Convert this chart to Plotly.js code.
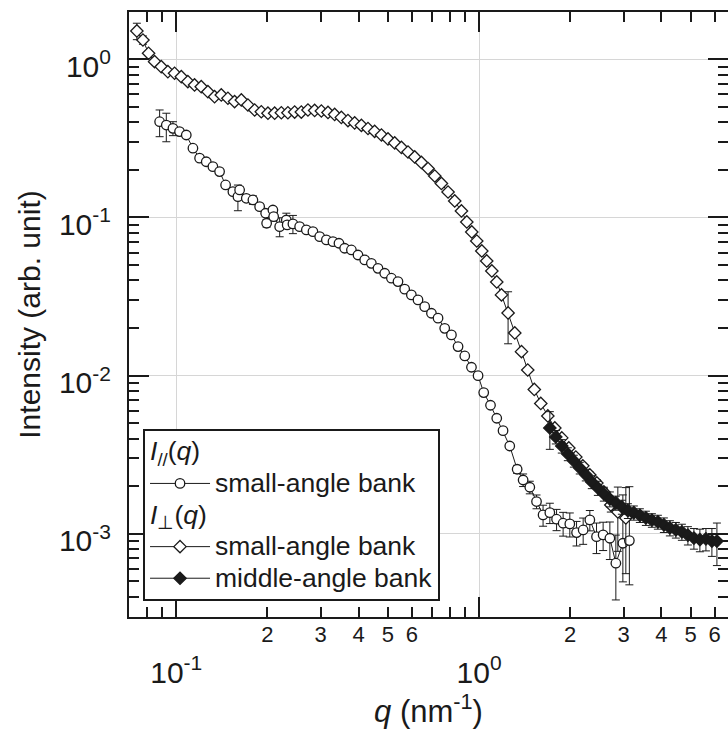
<!DOCTYPE html>
<html>
<head>
<meta charset="utf-8">
<script src="https://cdn.plot.ly/plotly-3.0.1.min.js"></script>
<style>html,body{margin:0;padding:0;background:#fff;}#chart{width:728px;height:738px;}</style>
</head>
<body>
<div id="chart"></div>
<script>
// ---- data: I_// (q), small-angle bank (open circles)
const qPar = [0.0881,0.0927,0.0975,0.1025,0.1079,0.1135,0.1194,0.1256,0.1321,0.1390,0.1455,0.1538,0.1598,0.1619,0.1703,0.1791,0.1885,0.1973,0.1988,0.2085,0.2097,0.2195,0.2309,0.2324,0.2428,0.2555,0.2689,0.2827,0.2976,0.3131,0.3292,0.3446,0.3598,0.3788,0.3982,0.4191,0.4409,0.4636,0.4880,0.5134,0.5398,0.5680,0.5977,0.6285,0.6614,0.6962,0.7320,0.7701,0.8105,0.8524,0.8971,0.9438,0.9924,1.036,1.091,1.144,1.200,1.263,1.336,1.398,1.471,1.548,1.627,1.713,1.803,1.895,1.994,2.099,2.207,2.322,2.443,2.569,2.704,2.830,2.985,3.136];
const iPar = [0.403,0.384,0.366,0.349,0.332,0.274,0.237,0.225,0.2095,0.195,0.1605,0.1456,0.1353,0.1492,0.1322,0.129,0.117,0.1063,0.0919,0.1115,0.1012,0.0875,0.0964,0.0897,0.091,0.0875,0.0834,0.0813,0.0756,0.0721,0.0703,0.0687,0.0639,0.0623,0.0579,0.0539,0.0513,0.0477,0.0444,0.0413,0.0393,0.0352,0.0324,0.0301,0.0273,0.0248,0.0231,0.0199,0.0181,0.01526,0.01332,0.0113,0.0100,0.00781,0.0065,0.00538,0.00449,0.00359,0.00256,0.00219,0.00197,0.0016,0.001317,0.001361,0.001237,0.001167,0.001155,0.001018,0.001058,0.001224,0.00096,0.000984,0.000938,0.000652,0.000872,0.000906];
const errParPlus = [0.075,0.072,0.037,0.015,0.010,0.008,0.006,0.006,0.005,0.005,0.006,0.005,0.025,0.008,0.006,0.008,0.005,0.004,0.005,0.004,0.006,0.012,0.010,0.004,0.012,0.002,0.002,0.002,0.0018,0.0017,0.0016,0.0015,0.0014,0.0013,0.0012,0.0011,0.001,0.001,0.0009,0.0008,0.0008,0.0007,0.0006,0.0006,0.0005,0.0005,0.0005,0.0004,0.0004,0.0003,0.0003,0.00025,0.0002,0.00018,0.00015,0.00013,0.00012,0.0001,0.00015,0.0002,0.00018,0.00016,0.0002,0.0002,0.00019,0.0002,0.0002,0.00018,0.0002,0.00018,0.00021,0.0002,0.00025,0.00033,0.00089,0.00108];
const errParMinus = [0.079,0.083,0.037,0.015,0.010,0.008,0.006,0.006,0.005,0.005,0.006,0.005,0.025,0.008,0.006,0.008,0.005,0.004,0.005,0.004,0.006,0.012,0.010,0.004,0.012,0.002,0.002,0.002,0.0018,0.0017,0.0016,0.0015,0.0014,0.0013,0.0012,0.0011,0.001,0.001,0.0009,0.0008,0.0008,0.0007,0.0006,0.0006,0.0005,0.0005,0.0005,0.0004,0.0004,0.0003,0.0003,0.00025,0.0002,0.00018,0.00015,0.00013,0.00012,0.0001,0.00015,0.0002,0.00018,0.00016,0.0002,0.0002,0.00019,0.0002,0.0002,0.00018,0.0002,0.00018,0.00021,0.0002,0.00025,0.00027,0.000375,0.00043];

// ---- data: I_perp (q), small-angle bank (open diamonds)
const qPerpSmall = [0.0741,0.0776,0.0810,0.0848,0.0892,0.0938,0.0987,0.1039,0.1092,0.1149,0.1209,0.1272,0.1338,0.1408,0.1481,0.1558,0.1640,0.1724,0.1815,0.1909,0.2008,0.2113,0.2223,0.2337,0.2460,0.2588,0.2722,0.2864,0.3014,0.3170,0.3335,0.3509,0.3690,0.3883,0.4087,0.4297,0.4520,0.4760,0.5003,0.5265,0.5541,0.5825,0.6131,0.645,0.6783,0.7139,0.751,0.790,0.831,0.8746,0.911,0.946,0.9826,1.021,1.060,1.102,1.144,1.186,1.247,1.312,1.381,1.448,1.522,1.599,1.687,1.779,1.876,1.979,2.087,2.201,2.322,2.449,2.583,2.724,2.873,3.053];
const iPerpSmall = [1.51,1.324,1.091,0.966,0.898,0.835,0.816,0.776,0.722,0.688,0.671,0.624,0.580,0.595,0.567,0.540,0.553,0.514,0.478,0.466,0.456,0.456,0.459,0.459,0.464,0.464,0.478,0.475,0.471,0.461,0.448,0.429,0.410,0.396,0.382,0.365,0.350,0.332,0.3135,0.2958,0.277,0.2594,0.2412,0.2227,0.204,0.1829,0.164,0.1449,0.1272,0.1099,0.0937,0.081,0.071,0.0614,0.0531,0.0459,0.0391,0.0324,0.0249,0.01862,0.01418,0.01086,0.00818,0.00667,0.00556,0.00467,0.00404,0.00349,0.00306,0.00269,0.002357,0.002098,0.00184,0.001523,0.001375,0.00126];
const errPerpSmall = [0.18,0.08,0.03,0.02,0.015,0.012,0.012,0.01,0.01,0.01,0.009,0.009,0.008,0.008,0.008,0.008,0.008,0.007,0.007,0.007,0.007,0.007,0.007,0.007,0.007,0.007,0.007,0.007,0.007,0.007,0.006,0.006,0.006,0.006,0.005,0.005,0.005,0.005,0.004,0.004,0.004,0.004,0.003,0.003,0.003,0.003,0.0025,0.0022,0.002,0.0018,0.0016,0.0014,0.0012,0.0011,0.001,0.0009,0.0008,0.0007,0.009,0.0004,0.0003,0.00025,0.0002,0.00016,0.00014,0.00012,0.0001,0.0001,0.0001,0.0001,0.0001,0.0001,0.0001,0.00015,0.0006,0.0007];

// ---- data: I_perp (q), middle-angle bank (filled diamonds)
const qPerpMid = [1.713,1.793,1.876,1.964,2.056,2.151,2.252,2.357,2.468,2.583,2.704,2.830,2.962,3.101,3.245,3.397,3.556,3.722,3.896,4.078,4.268,4.467,4.676,4.895,5.124,5.362,5.614,5.875,6.103];
const iPerpMid = [0.00467,0.00410,0.00359,0.00320,0.00289,0.00261,0.00236,0.00213,0.00195,0.00179,0.00166,0.00157,0.00148,0.00140,0.00136,0.00131,0.00126,0.00122,0.00119,0.00114,0.00109,0.00106,0.00103,0.00098,0.00094,0.00092,0.00093,0.00090,0.00090];
const errPerpMid = [0.00125,0.0004,0.00035,0.0003,0.00025,0.00022,0.0002,0.0002,0.0002,0.00018,0.00018,0.00016,0.00015,0.00015,0.00014,0.00013,0.00013,0.00012,0.00012,0.00012,0.00012,0.00012,0.00012,0.00013,0.00014,0.00015,0.00015,0.00018,0.00027];

// ---- axes / ticks
const xRange = [0.0698, 6.64];
const yRange = [0.000298, 1.99];
const xMajorVals = [0.1, 1];
const xMajorText = ['10<sup>-1</sup>', '10<sup>0</sup>'];
const xMinorVals = [0.07,0.08,0.09,0.2,0.3,0.4,0.5,0.6,0.7,0.8,0.9,2,3,4,5,6];
const xLabelVals = [0.2,0.3,0.4,0.5,0.6,2,3,4,5,6];
const xLabelText = ['2','3','4','5','6','2','3','4','5','6'];
const yMajorVals = [0.001, 0.01, 0.1, 1];
const yMajorText = ['10<sup>-3</sup>', '10<sup>-2</sup>', '10<sup>-1</sup>', '10<sup>0</sup>'];
const yMinorVals = [0.0003,0.0004,0.0005,0.0006,0.0007,0.0008,0.0009,0.002,0.003,0.004,0.005,0.006,0.007,0.008,0.009,0.02,0.03,0.04,0.05,0.06,0.07,0.08,0.09,0.2,0.3,0.4,0.5,0.6,0.7,0.8,0.9];

const legendTitlePar = '<i>I</i><sub>//</sub>(<i>q</i>)';
const legendTitlePerp = '<i>I</i><sub>⊥</sub>(<i>q</i>)';
const seriesNames = ['small-angle bank', 'small-angle bank', 'middle-angle bank'];
const xTitle = '<i>q</i> (nm<sup>-1</sup>)';
const yTitle = 'Intensity (arb. unit)';

const INK = '#1a1a1a';
const GRID = '#d6d6d6';
const FONT = 'Liberation Sans, Arial, Helvetica, sans-serif';
const LEG_PX = 26.5;   // drawn size of legend text (rows are spaced by the smaller legend font)
const lg = v => Math.log10(v);
const big = s => '<span style="font-size:' + LEG_PX + 'px">' + s + '</span>';

const errStyle = {color: INK, thickness: 1, width: 4};

const traces = [
  // empty traces that carry the overlay tick axes
  {x: [], y: [], type: 'scatter', mode: 'markers', xaxis: 'x2', yaxis: 'y2', showlegend: false, hoverinfo: 'skip'},
  {x: [], y: [], type: 'scatter', mode: 'markers', xaxis: 'x3', yaxis: 'y3', showlegend: false, hoverinfo: 'skip'},
  {
    x: qPar, y: iPar, type: 'scatter', mode: 'lines+markers', name: big(seriesNames[0]),
    legendgroup: 'par', legendgrouptitle: {text: big(legendTitlePar)}, legendrank: 1,
    line: {color: INK, width: 1},
    marker: {symbol: 'circle', size: 9.5, color: 'white', line: {color: INK, width: 1.3}},
    error_y: Object.assign({type: 'data', array: errParPlus, arrayminus: errParMinus, symmetric: false, visible: true}, errStyle)
  },
  {
    x: qPerpSmall, y: iPerpSmall, type: 'scatter', mode: 'lines+markers', name: big(seriesNames[1]),
    legendgroup: 'perp', legendgrouptitle: {text: big(legendTitlePerp)}, legendrank: 2,
    line: {color: INK, width: 1},
    marker: {symbol: 'diamond', size: 9.5, color: 'white', line: {color: INK, width: 1.3}},
    error_y: Object.assign({type: 'data', array: errPerpSmall, visible: true}, errStyle)
  },
  {
    x: qPerpMid, y: iPerpMid, type: 'scatter', mode: 'lines+markers', name: big(seriesNames[2]),
    legendgroup: 'perp', legendrank: 3,
    line: {color: INK, width: 1},
    marker: {symbol: 'diamond', size: 9.5, color: INK, line: {color: INK, width: 1.3}},
    error_y: Object.assign({type: 'data', array: errPerpMid, visible: true}, errStyle)
  }
];

const xr = [lg(xRange[0]), lg(xRange[1])];
const yr = [lg(yRange[0]), lg(yRange[1])];

const tickAxis = (vals, len, extra) => Object.assign({
  type: 'log', automargin: false, tickmode: 'array', tickvals: vals,
  ticks: 'inside', ticklen: len, tickwidth: 2, tickcolor: INK,
  showline: false, mirror: 'ticks', zeroline: false
}, extra);

const layout = {
  width: 728, height: 738,
  margin: {l: 129, r: 0, t: 12, b: 121, autoexpand: false},
  paper_bgcolor: 'white', plot_bgcolor: 'white',
  font: {family: FONT, color: INK, size: 22},
  showlegend: true,
  // main axes: frame lines and labels
  xaxis: {
    type: 'log', range: xr, automargin: false,
    tickmode: 'array', tickvals: xLabelVals, ticktext: xLabelText, ticks: '',
    showline: true, linewidth: 2, linecolor: INK, mirror: true,
    showgrid: false, zeroline: false,
    tickfont: {size: 22}, ticklabelstandoff: -3
  },
  yaxis: {
    type: 'log', range: yr, automargin: false,
    tickmode: 'array', tickvals: yMajorVals, ticktext: yMajorText, ticks: '',
    showline: true, linewidth: 2, linecolor: INK, mirror: true,
    showgrid: false, zeroline: false,
    tickfont: {size: 30}, ticklabelstandoff: 10, ticklabelshift: 7,
    title: {text: yTitle, font: {size: 30}, standoff: 9}
  },
  // decade ticks (long), grid and decade labels on x
  xaxis2: tickAxis(xMajorVals, 20, {
    range: xr, overlaying: 'x', anchor: 'y2', side: 'bottom',
    ticktext: xMajorText, showgrid: true, gridcolor: GRID, gridwidth: 1,
    tickfont: {size: 30}, ticklabelstandoff: 35,
    title: {text: xTitle, font: {size: 31}, standoff: 10}
  }),
  yaxis2: tickAxis(yMajorVals, 20, {
    range: yr, overlaying: 'y', anchor: 'x2', side: 'left',
    showticklabels: false, showgrid: true, gridcolor: GRID, gridwidth: 1
  }),
  // short ticks
  xaxis3: tickAxis(xMinorVals, 10, {
    range: xr, overlaying: 'x', anchor: 'y3', side: 'bottom',
    showticklabels: false, showgrid: false
  }),
  yaxis3: tickAxis(yMinorVals, 10, {
    range: yr, overlaying: 'y', anchor: 'x3', side: 'left',
    showticklabels: false, showgrid: false
  }),
  legend: {
    x: 0.0234, y: 0.0264, xanchor: 'left', yanchor: 'bottom',
    bgcolor: 'white', bordercolor: INK, borderwidth: 2,
    font: {size: 22, color: INK}, grouptitlefont: {size: 22, color: INK},
    traceorder: 'grouped', tracegroupgap: 0, itemwidth: 60
  }
};

Plotly.newPlot('chart', traces, layout, {displayModeBar: false, staticPlot: true});
</script>
</body>
</html>
